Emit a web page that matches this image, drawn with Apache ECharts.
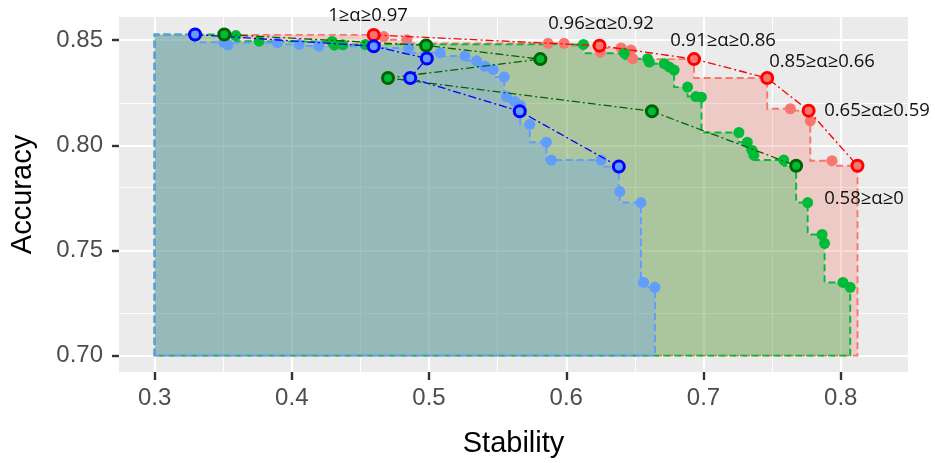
<!DOCTYPE html>
<html><head><meta charset="utf-8">
<script src="https://cdn.jsdelivr.net/npm/echarts@6/dist/echarts.min.js"></script>
<style>html,body{margin:0;padding:0;background:#fff}#c{width:935px;height:463px}</style>
</head><body><div id="c"></div>
<script>
// ---------- data ----------
const xTicks = [0.3, 0.4, 0.5, 0.6, 0.7, 0.8];
const xMinorTicks = [0.35, 0.45, 0.55, 0.65, 0.75];
const yTicks = [0.70, 0.75, 0.80, 0.85];
const yMinorTicks = [0.725, 0.775, 0.825];
const baseX = 0.3;   // left edge of the shaded regions
const baseY = 0.70;  // bottom edge of the shaded regions

const redRings = [[0.4597,0.8525],[0.6242,0.8474],[0.6931,0.8410],[0.7464,0.8320],[0.7766,0.8165],[0.8122,0.7903]];
const redDots = [[0.4670,0.8517],[0.4839,0.8502],[0.5867,0.8485],[0.5984,0.8485],[0.6249,0.8443],[0.6399,0.8463],
  [0.6472,0.8453],[0.6484,0.8412],[0.7633,0.8174],[0.7778,0.8116],[0.7936,0.7927]];

const greenRings = [[0.3508,0.8527],[0.4979,0.8475],[0.5811,0.8410],[0.4701,0.8320],[0.6624,0.8162],[0.7675,0.7903]];
const greenDots = [[0.3592,0.8522],[0.3762,0.8495],[0.4294,0.8494],[0.4310,0.8476],[0.4372,0.8478],[0.4536,0.8479],
  [0.6125,0.8480],[0.6423,0.8438],[0.6593,0.8412],[0.6605,0.8396],[0.6714,0.8388],[0.6750,0.8373],[0.6786,0.8358],
  [0.6884,0.8277],[0.6944,0.8232],[0.6985,0.8229],[0.7258,0.8061],[0.7319,0.8015],[0.7355,0.7976],[0.7367,0.7953],
  [0.7585,0.7930],[0.7759,0.7728],[0.7864,0.7576],[0.7882,0.7534],[0.8016,0.7348],[0.8069,0.7325]];

const blueRings = [[0.3295,0.8527],[0.4597,0.8471],[0.4984,0.8413],[0.4863,0.8320],[0.5661,0.8162],[0.6383,0.7899]];
const blueDots = [[0.3505,0.8490],[0.3535,0.8478],[0.3895,0.8488],[0.4053,0.8480],[0.4198,0.8472],[0.4851,0.8463],
  [0.5081,0.8440],[0.5262,0.8425],[0.5347,0.8402],[0.5407,0.8376],[0.5468,0.8360],[0.5548,0.8325],[0.5565,0.8232],
  [0.5625,0.8209],[0.5665,0.8190],[0.5734,0.8100],[0.5855,0.8015],[0.5891,0.7930],[0.6254,0.7930],[0.6390,0.7780],
  [0.6544,0.7728],[0.6564,0.7348],[0.6646,0.7325]];

const alphaLabels = ["1≥α≥0.97","0.96≥α≥0.92","0.91≥α≥0.86","0.85≥α≥0.66","0.65≥α≥0.59","0.58≥α≥0"];
const xTitle = "Stability";
const yTitle = "Accuracy";

// ---------- helpers ----------
function frontier(points){
  const pts = points.slice().sort((a,b)=> b[0]-a[0] || b[1]-a[1]);
  const f = []; let best = -Infinity;
  for (const p of pts){ if (p[1] > best){ f.push(p); best = p[1]; } }
  return f.reverse();
}
function staircase(points){
  const f = frontier(points);
  const v = [[baseX, baseY], [baseX, f[0][1]]];
  for (let i = 0; i < f.length; i++){
    v.push([f[i][0], f[i][1]]);
    if (i < f.length-1) v.push([f[i][0], f[i+1][1]]);
  }
  v.push([f[f.length-1][0], baseY]);
  return v;
}
function areaSeries(verts, fill, stroke, z){
  return {
    type:'custom', coordinateSystem:'cartesian2d', data: verts, encode:{x:0,y:1},
    z: z, silent:true, animation:false,
    renderItem: function(params, api){
      if (params.dataIndex !== 0) return null;
      const pts = verts.map(p => api.coord(p));
      return {type:'polygon', shape:{points:pts},
        style:{fill:fill, stroke:stroke, lineWidth:1.9, lineDash:[7,4]}};
    }
  };
}
function dots(data, color){
  return {type:'scatter', data:data, symbolSize:11, z:3, silent:true, animation:false,
    itemStyle:{color:color, opacity:1}};
}
function path(data, dark, light){
  return {type:'line', data:data, z:5, silent:true, animation:false,
    symbol:'circle', symbolSize:11, showAllSymbol:true,
    lineStyle:{color:dark, width:1.3, type:[8,3,2,3]},
    itemStyle:{color:light, borderColor:dark, borderWidth:3}};
}

const gridLines = {
  type:'scatter', data:[[baseX, baseY]], symbolSize:0, z:0, silent:true, animation:false,
  markLine:{z:0, silent:true, symbol:'none', animation:false, label:{show:false},
    data:[
      ...xMinorTicks.map(v=>({xAxis:v, lineStyle:{color:'#fff', width:1.1, type:'solid'}})),
      ...yMinorTicks.map(v=>({yAxis:v, lineStyle:{color:'#fff', width:1.1, type:'solid'}})),
      ...xTicks.map(v=>({xAxis:v, lineStyle:{color:'#fff', width:2.2, type:'solid'}})),
      ...yTicks.map(v=>({yAxis:v, lineStyle:{color:'#fff', width:2.2, type:'solid'}}))
    ]}
};

const chart = echarts.init(document.getElementById('c'), null, {renderer:'canvas'});
const labelPos = [[368,16],[601,24],[723,41],[822,62],[877,111],[864,199]];
chart.setOption({
  backgroundColor:'#fff',
  animation:false,
  grid:{left:116, right:27, top:17, bottom:83, show:true, backgroundColor:'#EBEBEB', borderWidth:0},
  xAxis:{type:'value', min:0.27409, max:0.84900,
    name:xTitle, nameLocation:'middle', nameGap:57,
    nameTextStyle:{fontFamily:'Liberation Sans', fontSize:29, color:'#000'},
    axisLine:{show:false}, splitLine:{show:false},
    axisTick:{show:true, length:8, customValues:xTicks, lineStyle:{color:'#333', width:2.4}},
    axisLabel:{customValues:xTicks, margin:14, fontFamily:'Liberation Sans', fontSize:24, color:'#4D4D4D',
      formatter:v=>v.toFixed(1)}},
  yAxis:{type:'value', min:0.69223, max:0.86102,
    name:yTitle, nameLocation:'middle', nameGap:82,
    nameTextStyle:{fontFamily:'Liberation Sans', fontSize:29, color:'#000'},
    axisLine:{show:false}, splitLine:{show:false},
    axisTick:{show:true, length:7, customValues:yTicks, lineStyle:{color:'#333', width:2.4}},
    axisLabel:{customValues:yTicks, margin:16, fontFamily:'Liberation Sans', fontSize:24, color:'#4D4D4D',
      formatter:v=>v.toFixed(2)}},
  graphic: alphaLabels.map((t,i)=>({type:'text', x:labelPos[i][0], y:labelPos[i][1], z:10,
    style:{text:t, fontFamily:'Open Sans', fontSize:18.5, fill:'#111', textAlign:'center', textVerticalAlign:'middle'}})),
  series:[
    gridLines,
    areaSeries(staircase(redRings.concat(redDots)), 'rgba(248,118,109,0.28)', '#F8766D', 1),
    areaSeries(staircase(greenRings.concat(greenDots)), 'rgba(0,186,56,0.28)', '#00BA38', 1),
    areaSeries(staircase(blueRings.concat(blueDots)), 'rgba(97,156,255,0.28)', '#619CFF', 1),
    dots(redDots, '#F8766D'),
    dots(greenDots, '#00BA38'),
    dots(blueDots, '#619CFF'),
    path(redRings, '#FF0000', '#F8766D'),
    path(greenRings, '#006400', '#00BA38'),
    path(blueRings, '#0000FF', '#619CFF')
  ]
});
</script></body></html>
